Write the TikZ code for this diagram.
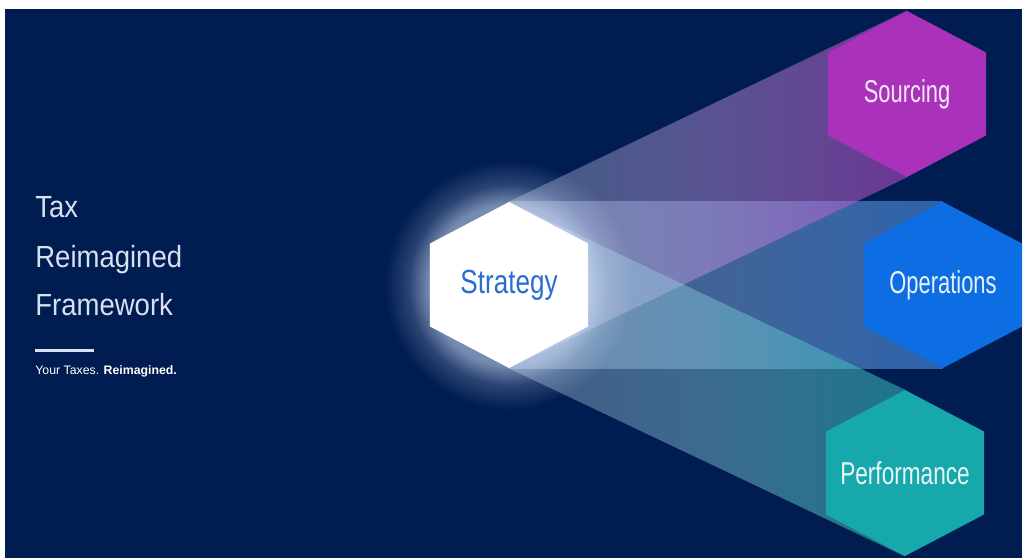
\documentclass[tikz,border=0pt]{standalone}
\usepackage{fontspec}
\setmainfont{Liberation Sans}
\usetikzlibrary{shapes.geometric}
\usetikzlibrary{fadings}

\definecolor{navy}{RGB}{0,28,80}
\definecolor{sourcingc}{RGB}{170,50,186}
\definecolor{operationsc}{RGB}{12,110,226}
\definecolor{performancec}{RGB}{22,168,170}
\definecolor{strategyc}{RGB}{40,110,210}
\definecolor{titlec}{RGB}{215,225,240}
\definecolor{glowc}{RGB}{215,230,255}

\tikzfading[name=beamfade, left color=transparent!70, right color=transparent!40]
\pgfdeclareradialshading{glowshade}{\pgfpoint{0bp}{0bp}}{color(0bp)=(pgftransparent!30); color(16bp)=(pgftransparent!45); color(20bp)=(pgftransparent!80); color(25bp)=(pgftransparent!100); color(50bp)=(pgftransparent!100)}
\pgfdeclarefading{glowfade}{\pgfuseshading{glowshade}}

\pgfdeclarelayer{bg}
\pgfdeclarelayer{beams}
\pgfsetlayers{bg,beams,main}

\newcommand{\narrow}[2]{\makebox[0pt][c]{\scalebox{#1}[1]{#2}}}

\begin{document}
\begin{tikzpicture}[x=0.02cm,y=-0.02cm,
	hexa/.style={regular polygon,regular polygon sides=6,shape border rotate=30,minimum size=3.32cm,inner sep=0pt,xscale=1.1,font=\fontsize{18}{20}\selectfont},
	beam/.style={left color=glowc,path fading=beamfade},
	titleline/.style={anchor=base west,inner sep=0pt,text=titlec,font=\fontsize{17.4}{20}\selectfont}
	]
	\useasboundingbox (0,0) rectangle (1023,558);
	% hexagons
	\node[hexa,fill=white,text=strategyc,font=\fontsize{19}{21}\selectfont] (strategy) at (509,285) {\narrow{0.71}{Strategy}};
	\node[hexa,fill=sourcingc,text=white!88!sourcingc] (sourcing) at (907,94) {\narrow{0.63}{Sourcing}};
	\node[hexa,fill=operationsc,text=white!90!operationsc] (operations) at (943,285) {\narrow{0.63}{Operations}};
	\node[hexa,fill=performancec,text=white!90!performancec] (performance) at (905,473) {\narrow{0.65}{Performance}};
	% beams from strategy
	\begin{pgfonlayer}{beams}
		\shade[beam,right color=operationsc!75!white] (strategy.90) -- (operations.90) -- (operations.270) -- (strategy.270) -- cycle;
		\shade[beam,right color=sourcingc!90!white] (strategy.90) -- (sourcing.90) -- (sourcing.270) -- (strategy.270) -- cycle;
		\shade[beam,right color=performancec!90!white] (strategy.90) -- (performance.90) -- (performance.270) -- (strategy.270) -- cycle;
		\fill[glowc,path fading=glowfade] (strategy) circle (125);
	\end{pgfonlayer}
	\begin{pgfonlayer}{bg}
		\fill[white] (0,0) rectangle (1023,558);
		\fill[navy] (5,9) rectangle (1022,558);
	\end{pgfonlayer}
	% title
	\node[titleline] (tax) at (35,217) {\scalebox{0.9}[1]{Tax}};
	\node[titleline] (reimagined) at (35,267) {\scalebox{0.9}[1]{Reimagined}};
	\node[titleline] (framework) at (35,315) {\scalebox{0.9}[1]{Framework}};
	\fill[titlec] (35,348.5) rectangle (94,351.5);
	\node[anchor=base west,inner sep=0pt,text=white,font=\fontsize{7}{8}\selectfont] (slogan) at (35,374) {Your Taxes. \textbf{Reimagined.}};
\end{tikzpicture}
\end{document}
